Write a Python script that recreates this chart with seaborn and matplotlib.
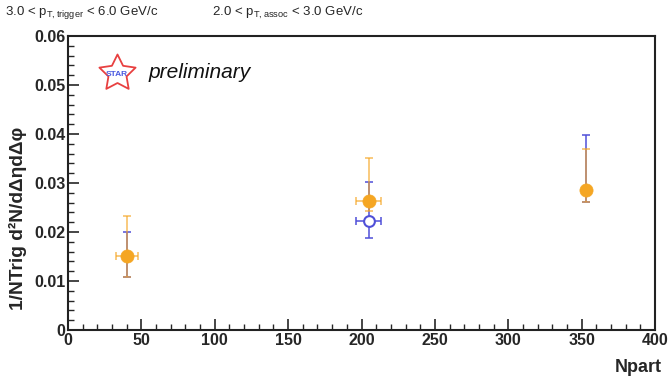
import numpy as np
import pandas as pd
import matplotlib
matplotlib.use("Agg")
import matplotlib.pyplot as plt
import seaborn as sns

# ---- data ----
npart = [40, 205, 353]
# filled orange points
orange_y = [0.0151, 0.0264, 0.0285]
orange_lo = [0.0109, 0.0243, 0.0262]
orange_hi = [0.0233, 0.0352, 0.0369]
orange_xerr = [7.5, 8.5, 0.0]
# open blue points
blue_y = [0.0151, 0.0223, 0.0285]
blue_lo = [0.0109, 0.0187, 0.0262]
blue_hi = [0.0201, 0.0303, 0.0398]
blue_xerr = [0.0, 8.5, 0.0]
blue_visible = [False, True, False]

sns.set_style("ticks")
plt.rcParams['font.family'] = ['Liberation Sans', 'DejaVu Sans']

fig = plt.figure(figsize=(6.71, 3.84), dpi=100)
ax = fig.add_axes([68/671, 54/384, 587/671, 294/384])

orange = "#f5a623"
blue = "#5050d8"

dfb = pd.DataFrame({"Npart": npart, "y": blue_y, "lo": blue_lo, "hi": blue_hi,
                    "xe": blue_xerr, "vis": blue_visible})
dfo = pd.DataFrame({"Npart": npart, "y": orange_y, "lo": orange_lo, "hi": orange_hi,
                    "xe": orange_xerr})

# blue error bars
ax.errorbar(dfb["Npart"], dfb["y"],
            yerr=[dfb["y"] - dfb["lo"], dfb["hi"] - dfb["y"]],
            xerr=dfb["xe"], fmt="none", ecolor=blue, elinewidth=1.1,
            capsize=3, capthick=1.1, zorder=2)
# orange error bars (semi-transparent to blend)
ax.errorbar(dfo["Npart"], dfo["y"],
            yerr=[dfo["y"] - dfo["lo"], dfo["hi"] - dfo["y"]],
            xerr=dfo["xe"], fmt="none", ecolor=orange, elinewidth=1.1,
            capsize=3, capthick=1.1, alpha=0.75, zorder=3)

sns.scatterplot(data=dfb[dfb["vis"]], x="Npart", y="y", ax=ax, marker="o",
                s=60, facecolor="white", edgecolor=blue, linewidth=1.5, zorder=4)
sns.scatterplot(data=dfo, x="Npart", y="y", ax=ax, marker="o",
                s=90, color=orange, edgecolor=orange, linewidth=0.5, zorder=5)

ax.set_xlim(0, 400)
ax.set_ylim(0, 0.06)
ax.set_xticks(np.arange(0, 401, 50))
ax.set_xticks(np.arange(0, 401, 10), minor=True)
ax.set_yticks(np.arange(0, 0.0601, 0.01))
ax.set_yticks(np.arange(0, 0.0601, 0.002), minor=True)
ax.set_xticklabels([str(v) for v in range(0, 401, 50)])
ax.set_yticklabels(["0", "0.01", "0.02", "0.03", "0.04", "0.05", "0.06"])
ax.tick_params(axis="both", which="major", direction="in", length=8, width=1.2,
               labelsize=11.5, pad=2)
ax.tick_params(axis="both", which="minor", direction="in", length=4, width=1.0)
for lab in ax.get_xticklabels() + ax.get_yticklabels():
    lab.set_fontweight("bold")
for sp in ax.spines.values():
    sp.set_visible(True)
    sp.set_linewidth(1.5)
    sp.set_color("#222222")

ax.set_xlabel("")
ax.set_ylabel("")
fig.text(662/671, 17/384, "Npart", ha="right", va="center",
         fontsize=13, fontweight="bold")
fig.text(18/671, 0.432, "1/NTrig d\u00b2N/d\u0394\u03b7d\u0394\u03c6",
         rotation=90, ha="center", va="center", fontsize=13.8, fontweight="bold")

fig.text(5/671, 1 - 13/384, "3.0 < p$_{\\mathregular{T,trigger}}$ < 6.0 GeV/c",
         ha="left", va="center", fontsize=9.5)
fig.text(212/671, 1 - 13/384, "2.0 < p$_{\\mathregular{T,assoc}}$ < 3.0 GeV/c",
         ha="left", va="center", fontsize=9.5)

# STAR preliminary logo
ax.scatter([33.5], [0.0524], marker=(5, 1), s=750, facecolor="white",
           edgecolor="#e84040", linewidth=1.3, zorder=6)
ax.text(33.5, 0.0521, "STAR", color="#4a5ae0", fontsize=6, fontweight="bold",
        ha="center", va="center", zorder=7)
ax.text(55, 0.0525, "preliminary", fontsize=15, style="italic",
        ha="left", va="center", color="#111111", zorder=7)

fig.savefig("out.png", dpi=100)
